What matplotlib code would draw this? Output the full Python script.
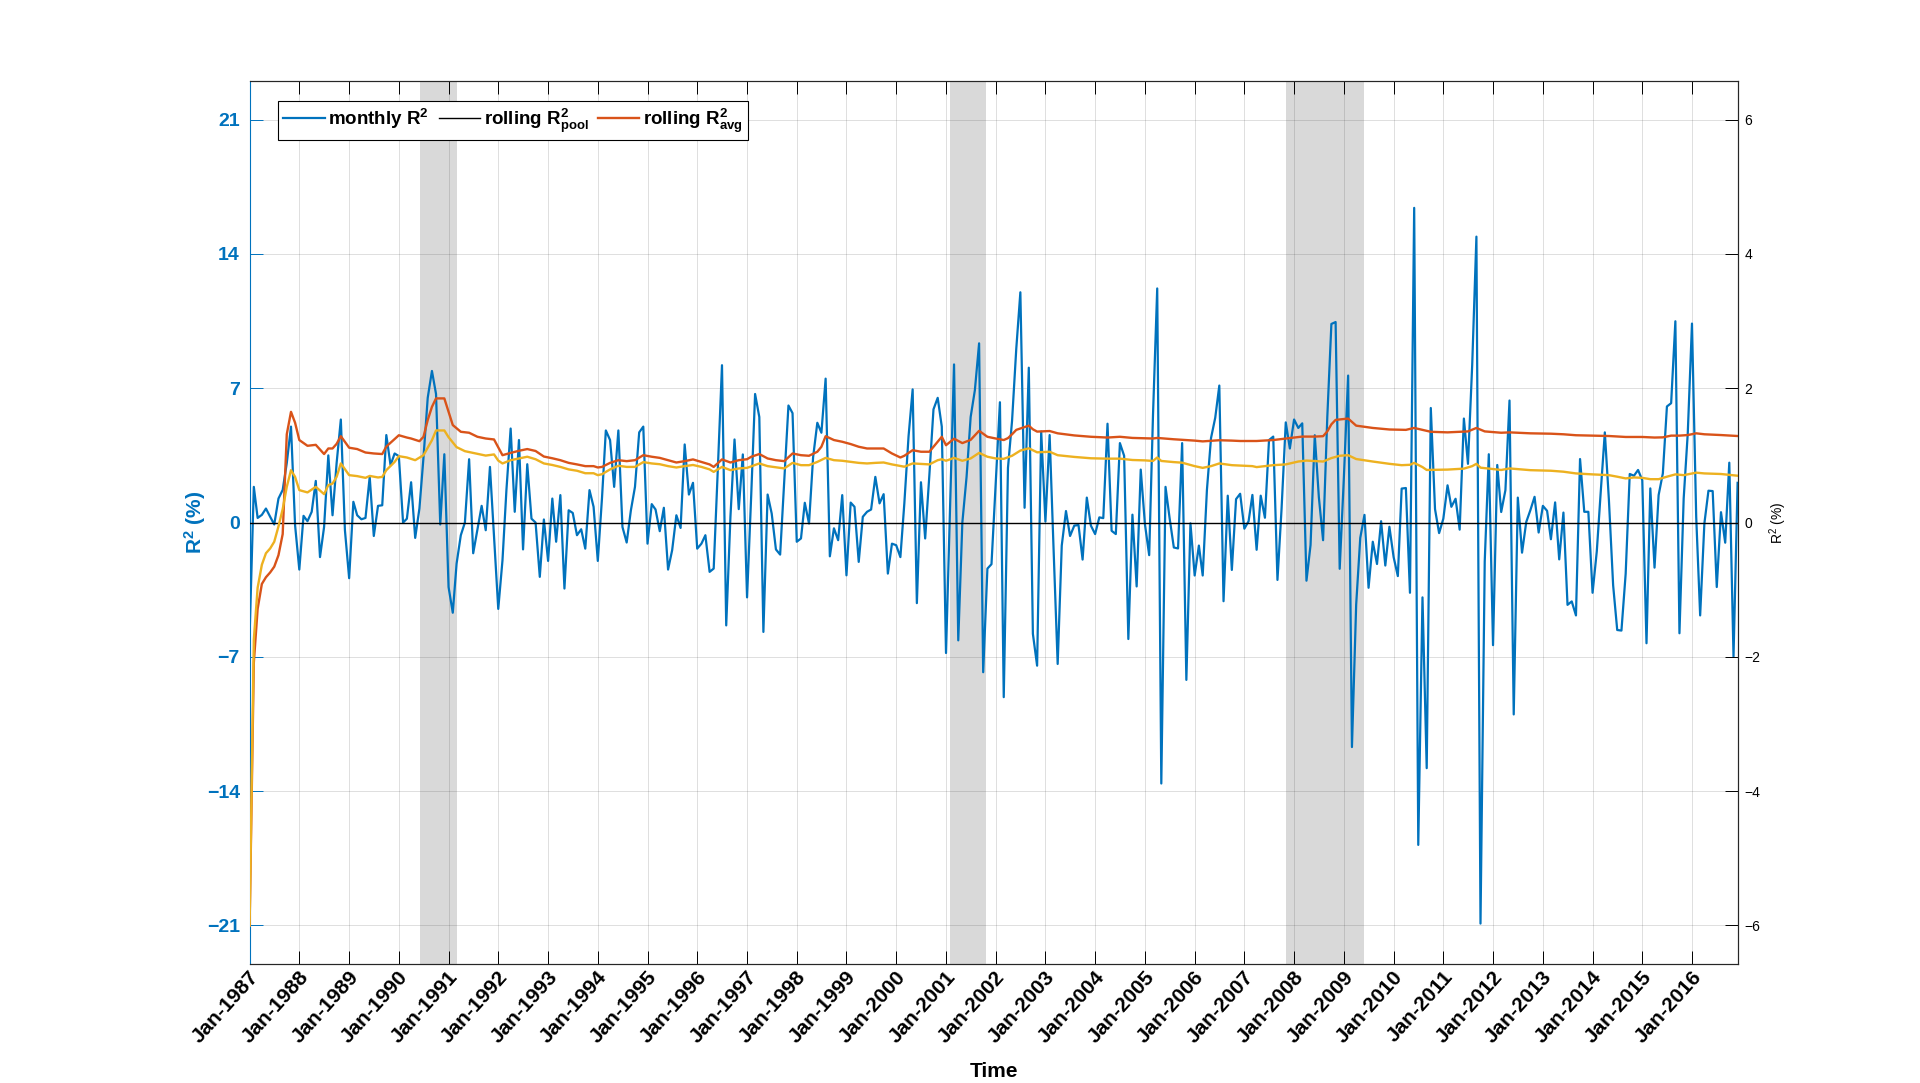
#!/usr/bin/env python3
"""Monthly out-of-sample R^2 with rolling averages, Jan-1987 .. Dec-2016 (values read off the figure)."""
import numpy as np
import pandas as pd
import matplotlib
matplotlib.use("Agg")
import matplotlib.pyplot as plt
import matplotlib.dates as mdates
from matplotlib.transforms import ScaledTranslation

plt.rcParams["font.family"] = ["Liberation Sans", "DejaVu Sans"]
plt.rcParams["mathtext.fontset"] = "custom"
plt.rcParams["mathtext.rm"] = "Liberation Sans"
plt.rcParams["mathtext.it"] = "Liberation Sans:italic"
plt.rcParams["mathtext.bf"] = "Liberation Sans:bold"
plt.rcParams["mathtext.default"] = "bf"

# ── monthly R^2 (%), one row per year, Jan..Dec ──
monthly_r2 = [
    -5.9, 1.86, 0.24, 0.4, 0.73, 0.3, -0.1, 1.25, 1.7, 3.1, 5.0, -0.14,          # 1987
    -2.45, 0.35, 0.07, 0.56, 2.17, -1.8, -0.23, 3.5, 0.38, 3.1, 5.37, -0.4,      # 1988
    -2.9, 1.08, 0.38, 0.17, 0.24, 2.38, -0.7, 0.87, 0.9, 4.56, 2.99, 3.6,        # 1989
    3.46, 0.0, 0.2, 2.1, -0.8, 0.73, 3.4, 6.5, 7.9, 6.7, -0.1, 3.56,             # 1990
    -3.36, -4.7, -2.14, -0.66, 0.0, 3.3, -1.6, -0.37, 0.87, -0.4, 2.9, -0.7,     # 1991
    -4.5, -1.97, 1.7, 4.9, 0.56, 4.3, -1.4, 3.04, 0.2, 0.0, -2.83, 0.16,         # 1992
    -2.0, 1.25, -1.0, 1.43, -3.44, 0.64, 0.5, -0.66, -0.35, -1.36, 1.69, 0.82,   # 1993
    -2.0, 1.3, 4.8, 4.3, 1.86, 4.8, -0.23, -1.04, 0.64, 1.86, 4.7, 5.0,          # 1994
    -1.1, 0.96, 0.68, -0.45, 0.77, -2.45, -1.44, 0.38, -0.28, 4.07, 1.46, 2.07,  # 1995
    -1.36, -1.1, -0.66, -2.57, -2.4, 2.9, 8.2, -5.36, 0.3, 4.33, 0.7, 3.55,      # 1996
    -3.9, 1.5, 6.7, 5.5, -5.7, 1.46, 0.47, -1.4, -1.67, 2.2, 6.1, 5.7,           # 1997
    -1.0, -0.83, 1.03, -0.05, 3.4, 5.2, 4.68, 7.5, -1.76, -0.3, -0.92, 1.43,     # 1998
    -2.75, 1.04, 0.82, -2.05, 0.3, 0.56, 0.68, 2.38, 1.0, 1.48, -2.66, -1.1,     # 1999
    -1.18, -1.8, 1.0, 4.5, 6.94, -4.2, 2.1, -0.83, 2.5, 5.9, 6.5, 5.0,           # 2000
    -6.8, 1.0, 8.24, -6.14, 0.0, 2.38, 5.5, 6.9, 9.34, -7.8, -2.4, -2.17,        # 2001
    2.0, 6.27, -9.1, 2.85, 5.3, 9.06, 12.0, 0.77, 8.07, -5.8, -7.46, 4.74,       # 2002
    0.05, 4.56, -1.2, -7.37, -1.2, 0.6, -0.7, -0.16, -0.13, -1.93, 1.3, -0.16,   # 2003
    -0.6, 0.27, 0.23, 5.15, -0.43, -0.6, 4.14, 3.48, -6.07, 0.41, -3.33, 2.76,   # 2004
    -0.1, -1.7, 5.6, 12.2, -13.6, 1.86, 0.23, -1.3, -1.35, 4.14, -8.2, -0.04,    # 2005
    -2.76, -1.2, -2.76, 1.7, 4.4, 5.46, 7.14, -4.1, 1.4, -2.47, 1.22, 1.5,       # 2006
    -0.32, 0.07, 1.44, -1.42, 1.4, 0.25, 4.3, 4.48, -2.99, 0.7, 5.22, 3.86,      # 2007
    5.37, 4.93, 5.17, -3.03, -1.17, 4.55, 1.32, -0.92, 5.5, 10.35, 10.45, -2.41, # 2008
    2.4, 7.66, -11.7, -4.28, -0.8, 0.4, -3.4, -1.0, -2.16, 0.07, -2.24, -0.22,   # 2009
    -1.8, -2.79, 1.77, 1.8, -3.66, 16.4, -16.8, -3.9, -12.8, 5.97, 0.7, -0.55,   # 2010
    0.2, 1.94, 0.82, 1.24, -0.37, 5.42, 3.06, 8.2, 14.9, -20.9, -2.04, 3.56,     # 2011
    -6.39, 3.0, 0.55, 1.69, 6.36, -10.0, 1.3, -1.57, 0.03, 0.64, 1.34, -0.52,    # 2012
    0.87, 0.61, -0.87, 1.05, -1.92, 0.52, -4.29, -4.11, -4.84, 3.31, 0.56, 0.56, # 2013
    -3.66, -1.5, 1.5, 4.7, 1.17, -3.27, -5.6, -5.63, -2.67, 2.53, 2.44, 2.74,    # 2014
    2.21, -6.29, 1.78, -2.35, 1.43, 2.56, 6.05, 6.22, 10.49, -5.77, 1.25, 4.65,  # 2015
    10.37, 0.3, -4.84, -0.05, 1.66, 1.64, -3.36, 0.54, -1.05, 3.12, -6.99, 2.07, # 2016
]

# ── rolling R^2_avg (orange): month index since Jan-1987, value ──
avg_month = [0, 1, 2, 3, 4, 5, 6, 7, 8, 9, 10, 11, 12, 14, 16, 18, 19, 20, 21, 22,
             24, 26, 28, 30, 32, 33, 36, 38, 39, 41, 42, 43, 44, 45, 47, 48, 49, 51, 53, 55,
             57, 59, 61, 63, 65, 67, 69, 71, 73, 75, 77, 79, 81, 83, 84, 85, 87, 89, 91, 93,
             95, 97, 99, 101, 103, 105, 107, 109, 111, 112, 114, 116, 118, 120, 121, 123, 125, 127, 129, 131,
             133, 135, 137, 138, 139, 141, 143, 145, 147, 149, 153, 155, 157, 158, 160, 162, 164, 166, 167, 168,
             170, 172, 174, 176, 178, 180, 182, 183, 184, 185, 186, 188, 189, 190, 193, 195, 199, 203, 207, 210,
             213, 218, 219, 223, 228, 230, 234, 237, 239, 243, 247, 250, 252, 254, 257, 259, 260, 261, 262, 265,
             267, 271, 275, 279, 281, 283, 285, 289, 294, 296, 298, 302, 304, 309, 314, 317, 320, 324, 328, 332,
             336, 339, 341, 343, 345, 347, 349, 351, 355, 359]
avg_r2 = [-21.0, -7.3, -4.5, -3.2, -2.85, -2.6, -2.3, -1.7, -0.6, 4.6, 5.77, 5.2, 4.3, 4.0, 4.05, 3.57, 3.86, 3.86, 4.1, 4.5,
          3.9, 3.83, 3.65, 3.6, 3.57, 3.96, 4.55, 4.43, 4.38, 4.24, 4.47, 5.34, 6.03, 6.47, 6.47, 5.77, 5.08, 4.73, 4.68, 4.47,
          4.38, 4.33, 3.51, 3.63, 3.74, 3.83, 3.73, 3.44, 3.35, 3.25, 3.11, 3.03, 2.94, 2.94, 2.87, 2.9, 3.11, 3.25, 3.2, 3.25,
          3.51, 3.43, 3.37, 3.25, 3.13, 3.2, 3.29, 3.16, 3.03, 2.9, 3.29, 3.13, 3.25, 3.3, 3.43, 3.57, 3.34, 3.25, 3.2, 3.6,
          3.51, 3.48, 3.69, 3.95, 4.5, 4.3, 4.21, 4.09, 3.95, 3.86, 3.86, 3.6, 3.39, 3.48, 3.77, 3.69, 3.69, 4.21, 4.47, 4.03,
          4.37, 4.14, 4.31, 4.78, 4.47, 4.38, 4.3, 4.4, 4.6, 4.83, 4.9, 5.05, 4.86, 4.74, 4.77, 4.65, 4.54, 4.47, 4.43, 4.47,
          4.41, 4.38, 4.41, 4.34, 4.27, 4.23, 4.29, 4.27, 4.25, 4.25, 4.3, 4.38, 4.43, 4.48, 4.48, 4.5, 4.75, 5.12, 5.35, 5.42,
          5.05, 4.93, 4.85, 4.83, 4.93, 4.83, 4.73, 4.7, 4.75, 4.93, 4.75, 4.68, 4.7, 4.65, 4.63, 4.6, 4.55, 4.53, 4.51, 4.46,
          4.46, 4.43, 4.44, 4.53, 4.53, 4.56, 4.65, 4.6, 4.56, 4.51]

# ── second rolling series (yellow, no legend entry): month index, value ──
yel_month = [0, 1, 2, 3, 4, 5, 6, 7, 8, 9, 10, 11, 12, 14, 16, 18, 19, 20, 21, 22,
             24, 26, 28, 29, 31, 32, 33, 35, 36, 38, 40, 42, 44, 45, 47, 48, 50, 52, 55, 57,
             59, 60, 61, 63, 65, 67, 69, 71, 73, 75, 77, 79, 81, 83, 84, 85, 87, 89, 91, 93,
             95, 97, 99, 101, 103, 105, 107, 109, 111, 112, 114, 116, 118, 120, 123, 125, 129, 131, 133, 135,
             137, 139, 141, 143, 147, 149, 151, 153, 155, 158, 160, 164, 166, 167, 168, 170, 172, 174, 176, 178,
             180, 182, 184, 186, 188, 190, 193, 195, 199, 203, 207, 210, 213, 216, 218, 219, 220, 223, 225, 228,
             230, 232, 234, 237, 242, 243, 247, 250, 253, 255, 259, 261, 263, 265, 267, 271, 275, 278, 280, 281,
             283, 284, 289, 293, 295, 296, 297, 302, 304, 309, 314, 317, 320, 324, 328, 330, 332, 334, 336, 338,
             340, 342, 344, 346, 349, 351, 355, 359]
yel_r2 = [-21.0, -6.1, -3.4, -2.2, -1.6, -1.35, -1.0, -0.2, 0.7, 1.86, 2.73, 2.38, 1.69, 1.57, 1.86, 1.48, 1.95, 2.03, 2.38, 3.08,
          2.47, 2.42, 2.33, 2.43, 2.35, 2.38, 2.73, 3.16, 3.46, 3.39, 3.25, 3.51, 4.29, 4.8, 4.8, 4.45, 3.93, 3.72, 3.58, 3.49,
          3.55, 3.23, 3.08, 3.25, 3.34, 3.43, 3.3, 3.08, 3.0, 2.9, 2.77, 2.7, 2.57, 2.57, 2.47, 2.52, 2.77, 2.96, 2.9, 2.9,
          3.15, 3.08, 3.04, 2.94, 2.87, 2.94, 3.0, 2.9, 2.77, 2.64, 2.9, 2.73, 2.82, 2.85, 3.08, 2.94, 2.82, 3.11, 2.99, 2.99,
          3.16, 3.37, 3.25, 3.22, 3.11, 3.08, 3.11, 3.13, 3.03, 2.91, 3.08, 3.03, 3.25, 3.3, 3.22, 3.37, 3.22, 3.34, 3.63, 3.43,
          3.34, 3.32, 3.48, 3.75, 3.87, 3.66, 3.69, 3.51, 3.42, 3.35, 3.33, 3.33, 3.26, 3.24, 3.21, 3.39, 3.21, 3.15, 3.12, 2.94,
          2.85, 2.94, 3.08, 2.99, 2.94, 2.89, 2.99, 3.03, 3.18, 3.23, 3.18, 3.36, 3.48, 3.51, 3.31, 3.18, 3.06, 2.99, 3.01, 3.11,
          2.89, 2.74, 2.76, 2.81, 2.94, 3.06, 2.86, 2.74, 2.82, 2.73, 2.7, 2.65, 2.56, 2.51, 2.47, 2.39, 2.3, 2.35, 2.33, 2.26,
          2.26, 2.39, 2.51, 2.47, 2.6, 2.56, 2.53, 2.44]

# shaded recession windows
recessions = [("1990-06-05", "1991-03-01"), ("2001-01-28", "2001-10-24"), ("2007-11-01", "2009-05-28")]

LEGEND_LABELS = [r"monthly R$^{2}$", r"rolling R$^{2}_{pool}$", r"rolling R$^{2}_{avg}$"]


def main():
    blue, orange, yellow = "#0072BD", "#D95319", "#EDB120"
    months = pd.date_range("1987-01-01", periods=len(monthly_r2), freq="MS")

    fig = plt.figure(figsize=(19.2, 10.83), dpi=100)
    ax = fig.add_axes([0.13, 0.11, 0.775, 0.815])
    ax2 = ax.twinx()

    for a, b in recessions:
        ax.axvspan(pd.Timestamp(a), pd.Timestamp(b), color="#d9d9d9", lw=0, zorder=0.2)

    l1, = ax.plot(months, monthly_r2, color=blue, lw=1.6, zorder=3)
    l2 = ax.axhline(0, color="black", lw=1.0, zorder=3.5)
    l3, = ax.plot(months[avg_month], avg_r2, color=orange, lw=1.7, zorder=4)
    ax.plot(months[yel_month], yel_r2, color=yellow, lw=1.7, zorder=4)

    ax.set_xlim(months[0], months[-1])
    ax.set_ylim(-23, 23)
    ax2.set_ylim(-23 / 3.5, 23 / 3.5)

    ax.set_axisbelow(True)
    ax.grid(True, color="#262626", alpha=0.15, lw=0.7)

    ax.xaxis.set_major_locator(mdates.YearLocator())
    ax.xaxis.set_major_formatter(mdates.DateFormatter("%b-%Y"))
    ax.set_yticks([-21, -14, -7, 0, 7, 14, 21])
    ax2.set_yticks([-6, -4, -2, 0, 2, 4, 6])

    ax.tick_params(axis="x", direction="in", length=9.5, width=0.7, top=True, pad=10)
    ax.tick_params(axis="y", direction="in", length=9.5, width=0.7, colors=blue, pad=7)
    ax2.tick_params(axis="y", direction="in", length=9.5, width=0.7, pad=5, labelsize=10)

    # MATLAB-style rotated date labels, nudged a little to the right of each tick
    shift = ScaledTranslation(6 / 100, 4 / 100, fig.dpi_scale_trans)
    for lab in ax.get_xticklabels():
        lab.set_rotation(48)
        lab.set_ha("right")
        lab.set_va("center")
        lab.set_rotation_mode("anchor")
        lab.set_fontsize(15)
        lab.set_fontweight("bold")
        lab.set_transform(lab.get_transform() + shift)
    for lab in ax.get_yticklabels():
        lab.set_fontsize(14)
        lab.set_fontweight("bold")

    for s in ("top", "bottom", "right"):
        ax.spines[s].set_color("#262626")
        ax2.spines[s].set_color("#262626")
    ax.spines["left"].set_color(blue)
    ax2.spines["left"].set_visible(False)
    for sp in list(ax.spines.values()) + list(ax2.spines.values()):
        sp.set_linewidth(0.8)

    ax.set_xlabel("Time", fontsize=15, fontweight="bold", labelpad=11)
    ax.set_ylabel(r"R$^{2}$ (%)", fontsize=15, fontweight="bold", color=blue, labelpad=-1)
    ax2.set_ylabel(r"R$^{\mathrm{2}}$ (%)", fontsize=10, labelpad=5)

    leg = ax.legend([l1, l2, l3], LEGEND_LABELS, loc="upper left", bbox_to_anchor=(0.019, 0.978),
                    ncol=3, prop={"weight": "bold", "size": 13.5}, frameon=True,
                    fancybox=False, framealpha=1, edgecolor="black", handlelength=2.2,
                    handletextpad=0.2, columnspacing=0.5, borderpad=0.3, borderaxespad=0)
    leg.get_frame().set_linewidth(0.8)
    leg.set_zorder(10)

    fig.savefig("out.png", dpi=100)


if __name__ == "__main__":
    main()
